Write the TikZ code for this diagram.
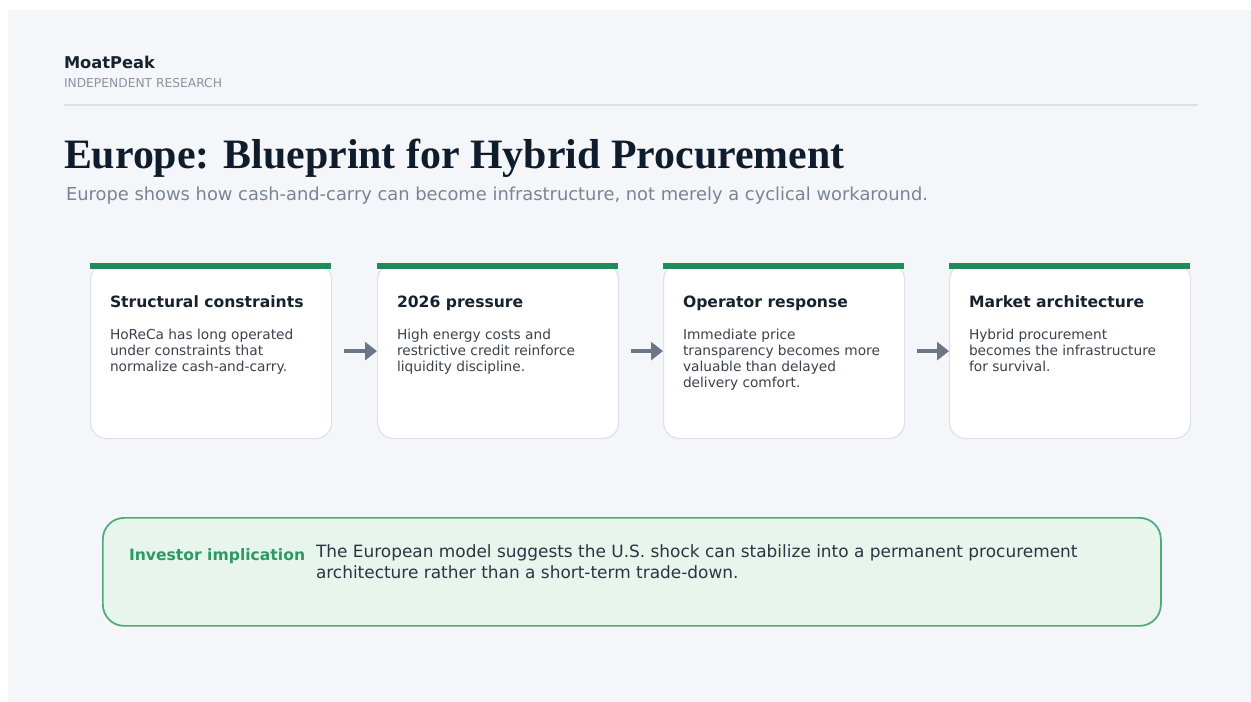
\documentclass[tikz,border=0pt]{standalone}
\usepackage{fontspec}
\setmainfont{DejaVu Sans}
\newfontfamily\titleserif{Liberation Serif}
\usetikzlibrary{arrows.meta}

\definecolor{pagebg}{HTML}{F4F6FA}
\definecolor{rulegray}{HTML}{DDE1E7}
\definecolor{ink}{HTML}{172230}
\definecolor{titleink}{HTML}{0F1C2B}
\definecolor{bodyink}{HTML}{3A4250}
\definecolor{mutedgray}{HTML}{8A93A1}
\definecolor{subgray}{HTML}{7A8494}
\definecolor{cardline}{HTML}{DDE1E8}
\definecolor{accentgreen}{HTML}{22895A}
\definecolor{arrowslate}{HTML}{6B7789}
\definecolor{notefill}{HTML}{E7F5ED}
\definecolor{noteline}{HTML}{4DAA7B}
\definecolor{notegreen}{HTML}{2E9962}
\definecolor{noteink}{HTML}{2B3441}

% stacked lines whose baseline is the first line
\newcommand{\stacklines}[1]{\begin{tabular}[t]{@{}l@{}}#1\end{tabular}}

\tikzset{
  txt/.style={anchor=base west, inner sep=0pt, outer sep=0pt},
  cardbox/.style={draw=cardline, line width=0.9pt, fill=white, rounded corners=12pt,
    minimum width=180.75pt, minimum height=131.25pt, inner sep=0pt},
  cardbar/.style={fill=accentgreen},
  cardtitle/.style={txt, font=\fontsize{11.7}{14}\selectfont\bfseries, text=ink},
  cardbody/.style={txt, font=\fontsize{10.3}{12}\selectfont, text=bodyink},
  flowarrow/.style={draw=arrowslate, line width=3pt,
    -{Triangle[length=9pt, width=13.5pt]}},
}

\begin{document}
\begin{tikzpicture}[x=0.75pt, y=-0.75pt]
  % page
  \useasboundingbox (0,0) rectangle (1251,702);
  \fill[pagebg] (8,10) rectangle (1251,702);

  % header
  \node[txt, font=\fontsize{12.2}{15}\selectfont\bfseries, text=ink] (brand) at (64,69) {MoatPeak};
  \node[txt, font=\fontsize{9.2}{11}\selectfont, text=mutedgray] (tagline) at (64,88) {INDEPENDENT RESEARCH};
  \coordinate (ruleL) at (64,105);
  \coordinate (ruleR) at (1198,105);
  \draw[rulegray, line width=1.5pt] (ruleL) -- (ruleR);

  \node[txt, font=\fontsize{31.4}{36}\selectfont\titleserif\bfseries, text=titleink] (title) at (64,169)
    {Europe: Blueprint for Hybrid Procurement};
  \node[txt, font=\fontsize{13.4}{16}\selectfont, text=subgray] (subtitle) at (66,200)
    {Europe shows how cash-and-carry can become infrastructure, not merely a cyclical workaround.};

  % cards
  \foreach \n/\x in {1/90, 2/377, 3/663, 4/949} {
    \node[cardbox, anchor=north west] (card\n) at (\x,263) {};
    \fill[cardbar] (\x,263) rectangle ++(241,6);
  }

  \node[cardtitle] (t1) at (110,307) {Structural constraints};
  \node[cardbody] (b1) at (110,339) {\stacklines{HoReCa has long operated\\under constraints that\\normalize cash-and-carry.}};

  \node[cardtitle] (t2) at (397,307) {2026 pressure};
  \node[cardbody] (b2) at (397,339) {\stacklines{High energy costs and\\restrictive credit reinforce\\liquidity discipline.}};

  \node[cardtitle] (t3) at (683,307) {Operator response};
  \node[cardbody] (b3) at (683,339) {\stacklines{Immediate price\\transparency becomes more\\valuable than delayed\\delivery comfort.}};

  \node[cardtitle] (t4) at (969,307) {Market architecture};
  \node[cardbody] (b4) at (969,339) {\stacklines{Hybrid procurement\\becomes the infrastructure\\for survival.}};

  % arrows between cards
  \foreach \a/\b in {1/2, 2/3, 3/4} {
    \draw[flowarrow] ([xshift=9pt]card\a.east) -- (card\b.west);
  }

  % investor note
  \node[draw=noteline, line width=1.3pt, fill=notefill, rounded corners=16pt,
        minimum width=793.5pt, minimum height=81pt, anchor=north west, inner sep=0pt]
        (note) at (102,517) {};
  \node[txt, font=\fontsize{11.7}{14}\selectfont\bfseries, text=notegreen] (notelabel) at (129,560)
    {Investor implication};
  \node[txt, font=\fontsize{12.7}{15.75}\selectfont, text=noteink] (notetext) at (316,557)
    {\stacklines{The European model suggests the U.S. shock can stabilize into a permanent procurement\\architecture rather than a short-term trade-down.}};
\end{tikzpicture}
\end{document}
